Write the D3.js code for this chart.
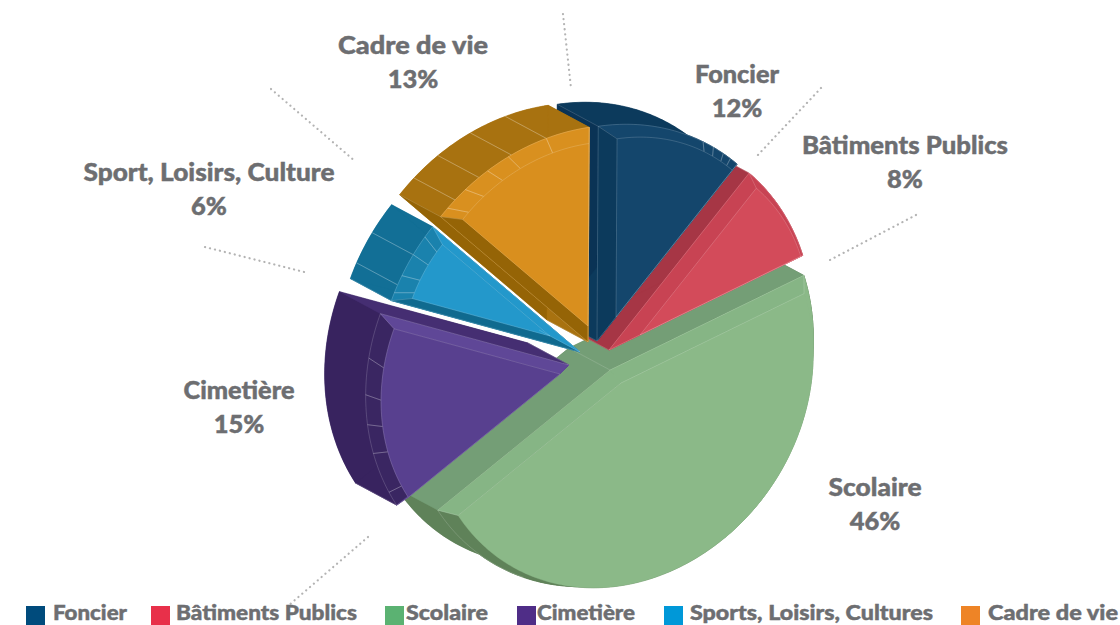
<!DOCTYPE html>
<html><head><meta charset="utf-8">
<script src="https://cdnjs.cloudflare.com/ajax/libs/d3/7.8.5/d3.min.js"></script>
<style>html,body{margin:0;padding:0;background:#fff;overflow:hidden}svg{display:block}
text{font-family:"Lato",sans-serif;font-weight:900;fill:#6d6e71;stroke:#6d6e71;stroke-width:.45}</style></head><body>
<svg id="c" width="1120" height="625"></svg>
<script>
// data
const categories=["Foncier","Bâtiments Publics","Scolaire","Cimetière","Sport, Loisirs, Culture","Cadre de vie"];
const values=[12,8,46,15,6,13];
const legendNames=["Foncier","Bâtiments Publics","Scolaire","Cimetière","Sports, Loisirs, Cultures","Cadre de vie"];
const legendColors=["#004b7c","#e8304a","#5bb272","#4f2d87","#0098d8","#ee8426"];

// layout and style
const W=1120,H=625;
const center=[592,358], depth=[-41,-22];
const axisDeg=303, rLong=226, rShort=193, startRel=-36.9;
const explode=[[5,-17],[17,-8],[18,12],[-23,7],[-12,-6],[-4,-16]];
const bevelShift=[[19,-24],[31,-15],[11,13],[-9,9],[-30,-16],[0,-16]];
const bevelScale=[.17,.17,.055,.12,.27,.15];
const drawOrder=[2,1,0,3,4,5];
const faceCol=["#14466c","#d34b5a","#8bb988","#58408f","#2398cb","#d98f1e"];
const bevelArc=["#14466c","#c84353","#5f8259","#3a2662","#1a82ad","#d9901f"];
const bevelStart=["#0c3a5c","#c84353","#86b585","#58408f","#106a8f","#956406"];
const bevelEnd=["#14466c","#d34b5a","#86b585","#5f4797","#2398cb","#d98f1e"];
const wallArc=["#0c3a5c","#a63645","#5f8259","#38235f","#126f96","#a87210"];
const wallStart=["#0a3355","#a63645","#749e76","#38235f","#126f96","#956406"];
const wallEnd=["#0c3a5c","#a63645","#749e76","#452e72","#126f96","#a87210"];
const litUntil=[0,0,.45,0,0,0];
const rimFrom=[0,0,.8,0,0,0];
const startLine=[1,1,1,0,1,1];
const wallTicks=[[],[],[],[],[.2,.6],[.12,.3,.52,.74]];
const bevelTicks=[[.72,.8,.88,.94],[],[],[.08,.3,.45,.6,.78],[.1,.32,.6,.85],[.06,.2,.36,.5,.74]];
const labelPos=[[737,74],[905,145],[875,487],[239,390],[209,172],[413,45]];
const labelWidths=[84,206,93,111,251,150];
const leaders=[[[821,88],[756,157]],[[916,215],[828,261]],[[368,537],[288,606]],[[205,247],[308,273]],[[271,89],[356,162]],[[563,14],[571,88]]];
const legendX=[[26,53],[151,176],[385,406],[517,537],[664,690],[961,988]];
const legendWidths=[74,181,82,98,243,131];

const svg=d3.select("#c");
const rad=Math.PI/180, ax=axisDeg*rad;
const U=[Math.cos(ax),Math.sin(ax)], V=[-Math.sin(ax),Math.cos(ax)];
const pie=d3.pie().sort(null).startAngle(startRel*rad).endAngle(startRel*rad+2*Math.PI);
const arcs=pie(values);
const onDisc=t=>[rLong*Math.cos(t)*U[0]+rShort*Math.sin(t)*V[0], rLong*Math.cos(t)*U[1]+rShort*Math.sin(t)*V[1]];
const line=d3.line(), poly=p=>line(p)+"Z";
const add=(a,b)=>[a[0]+b[0],a[1]+b[1]];
const sub=(a,b)=>[a[0]-b[0],a[1]-b[1]];

function drawSlice(i){
  const d=arcs[i], g=svg.append("g");
  const A=add(center,explode[i]);
  const n=Math.max(12,Math.round((d.endAngle-d.startAngle)/rad));
  const tt=d3.scaleLinear().domain([0,1]).range([d.startAngle,d.endAngle]);
  const arc=d3.range(n+1).map(k=>add(A,onDisc(tt(k/n))));
  const back=p=>add(p,depth);
  const toFace=p=>add(add(A,bevelShift[i]),sub(p,A).map(v=>v*(1-bevelScale[i])));
  const P0=arc[0],P1=arc[n],F=toFace(A);
  const farc=arc.map(toFace);
  const split=Math.round(litUntil[i]*n), rim=Math.round(rimFrom[i]*n);
  const pth=(pts,fill,closed=true)=>{
    const e=g.append("path").attr("d",closed?poly(pts):line(pts));
    if(fill) e.attr("fill",fill).attr("stroke",fill).attr("stroke-width",.4);
    else e.attr("fill","none").attr("stroke","#fff").attr("stroke-opacity",.24).attr("stroke-width",.7);
    return e;};
  // walls: rear arc, then the two straight sides
  pth([back(A),...arc.map(back)],wallArc[i]);
  pth([...arc,...arc.slice().reverse().map(back)],wallArc[i]);
  pth([A,P0,back(P0),back(A)],wallStart[i]);
  pth([A,P1,back(P1),back(A)],wallEnd[i]);
  wallTicks[i].forEach(f=>{const p=add(A,onDisc(tt(f)));pth([p,back(p)],null);});
  // bevel facets: the lit part of the rim takes the face colour
  pth([A,...arc],bevelArc[i]);
  pth([...arc,...farc.slice().reverse()],bevelArc[i]);
  if(split>0){
    const lit=arc.slice(0,split+1);
    pth([A,...lit],faceCol[i]);
    pth([...lit,...farc.slice(0,split+1).reverse()],faceCol[i]);
  }
  pth([A,P0,farc[0],F],bevelStart[i]);
  pth([A,P1,farc[n],F],bevelEnd[i]);
  bevelTicks[i].forEach(f=>{const p=add(A,onDisc(tt(f)));pth([p,toFace(p)],null);});
  // face
  pth([F,...farc],faceCol[i]);
  if(rim===0) pth([F,...farc],null);
  else { pth([F,farc[0]],null,false); pth([F,farc[n]],null,false); }
  pth(rim===0?[back(P0),P0,...arc,P1]:arc.slice(rim),null,false);
  pth([A,P1],null,false);
  if(startLine[i]) pth([A,P0],null,false);
  pth([P0,farc[0]],null,false);
  pth([P1,farc[n]],null,false);
  pth([A,back(A)],null,false);
}
drawOrder.forEach(drawSlice);

// leader lines
svg.append("g").selectAll("path").data(leaders).join("path")
  .attr("d",d=>line(d)).attr("fill","none").attr("stroke","#b3b3b3")
  .attr("stroke-width",2.2).attr("stroke-linecap","round").attr("stroke-dasharray","0.1 5");

// labels
const pct=d3.format(".0f");
const lab=svg.append("g").selectAll("g").data(categories).join("g")
  .attr("transform",(d,i)=>`translate(${labelPos[i]})`).attr("text-anchor","middle");
lab.append("text").attr("y",9).attr("font-size",25).attr("textLength",(d,i)=>labelWidths[i]).attr("lengthAdjust","spacingAndGlyphs").text(d=>d);
lab.append("text").attr("y",43).attr("font-size",25.5).text((d,i)=>pct(values[i])+"%");

// legend
const leg=svg.append("g").selectAll("g").data(legendNames).join("g");
leg.append("rect").attr("x",(d,i)=>legendX[i][0]).attr("y",606).attr("width",19).attr("height",20).attr("fill",(d,i)=>legendColors[i]);
leg.append("text").attr("x",(d,i)=>legendX[i][1]).attr("y",620).attr("font-size",21).attr("textLength",(d,i)=>Math.min(legendWidths[i],1118-legendX[i][1])).attr("lengthAdjust","spacingAndGlyphs").text(d=>d);
</script></body></html>
